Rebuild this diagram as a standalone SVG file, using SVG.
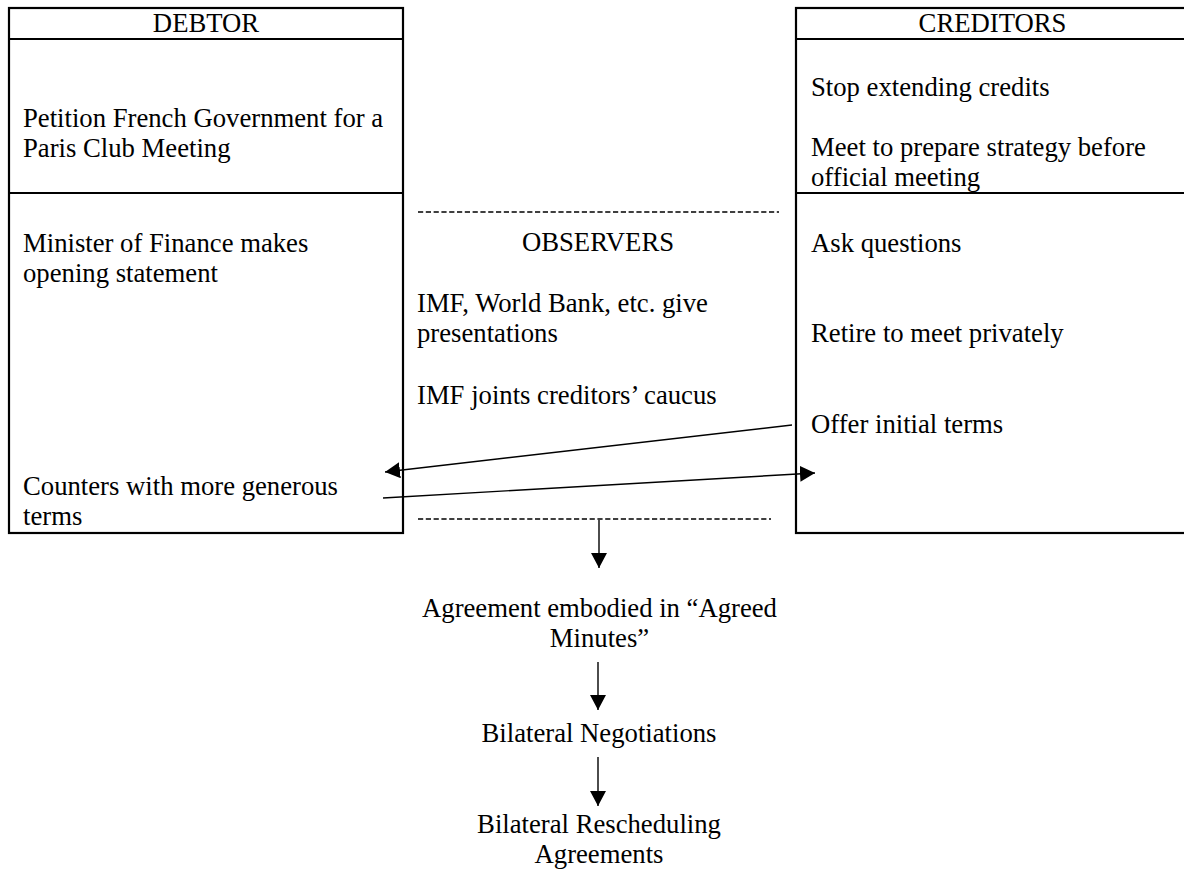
<svg xmlns="http://www.w3.org/2000/svg" width="1184" height="869" viewBox="0 0 1184 869">
<style>
text{font-family:"Liberation Serif","Times New Roman",serif;font-size:26.7px;fill:#000}
.c{text-anchor:middle}
.box{fill:none;stroke:#000;stroke-width:2.2}
.div{stroke:#000;stroke-width:2.2}
.dash{stroke:#000;stroke-width:1.7;stroke-dasharray:5.2 2.6}
.conn{stroke:#000;stroke-width:1.4;fill:none;marker-end:url(#ah)}
</style>
<defs>
<marker id="ah" markerUnits="userSpaceOnUse" viewBox="0 0 15 16" refX="15" refY="8" markerWidth="15" markerHeight="16" orient="auto">
<path d="M0,0 L15,8 L0,16 z" fill="#000"/>
</marker>
</defs>
<rect width="1184" height="869" fill="#fff"/>
<g id="debtor">
<rect class="box" x="9" y="8" width="394" height="525"/>
<line class="div" x1="9" y1="39" x2="403" y2="39"/>
<line class="div" x1="9" y1="193" x2="403" y2="193"/>
<text class="c" x="206" y="32">DEBTOR</text>
<text x="23" y="127">Petition French Government for a</text>
<text x="23" y="157">Paris Club Meeting</text>
<text x="23" y="252">Minister of Finance makes</text>
<text x="23" y="282">opening statement</text>
<text x="23" y="495">Counters with more generous</text>
<text x="23" y="525">terms</text>
</g>
<g id="creditors">
<rect class="box" x="796" y="8" width="393" height="525"/>
<line class="div" x1="796" y1="39" x2="1189" y2="39"/>
<line class="div" x1="796" y1="193" x2="1189" y2="193"/>
<text class="c" x="992.5" y="32">CREDITORS</text>
<text x="811" y="96">Stop extending credits</text>
<text x="811" y="156">Meet to prepare strategy before</text>
<text x="811" y="186">official meeting</text>
<text x="811" y="252">Ask questions</text>
<text x="811" y="342">Retire to meet privately</text>
<text x="811" y="433">Offer initial terms</text>
</g>
<g id="observers">
<line class="dash" x1="418" y1="212" x2="779" y2="212"/>
<line class="dash" x1="418" y1="519" x2="771" y2="519"/>
<text class="c" x="598" y="251">OBSERVERS</text>
<text x="417" y="312">IMF, World Bank, etc. give</text>
<text x="417" y="342">presentations</text>
<text x="417" y="404">IMF joints creditors’ caucus</text>
</g>
<g id="agreed-minutes">
<text class="c" x="599.5" y="617">Agreement embodied in “Agreed</text>
<text class="c" x="599.5" y="647">Minutes”</text>
</g>
<g id="bilateral-negotiations">
<text class="c" x="599" y="742">Bilateral Negotiations</text>
</g>
<g id="bilateral-rescheduling">
<text class="c" x="599" y="833">Bilateral Rescheduling</text>
<text class="c" x="599" y="863">Agreements</text>
</g>
<g id="connectors">
<line class="conn" x1="792" y1="425" x2="385" y2="472"/>
<line class="conn" x1="383" y1="498" x2="815" y2="473"/>
<line class="conn" x1="599" y1="520" x2="599" y2="568"/>
<line class="conn" x1="598" y1="662" x2="598" y2="710"/>
<line class="conn" x1="598" y1="757" x2="598" y2="806"/>
</g>
</svg>
